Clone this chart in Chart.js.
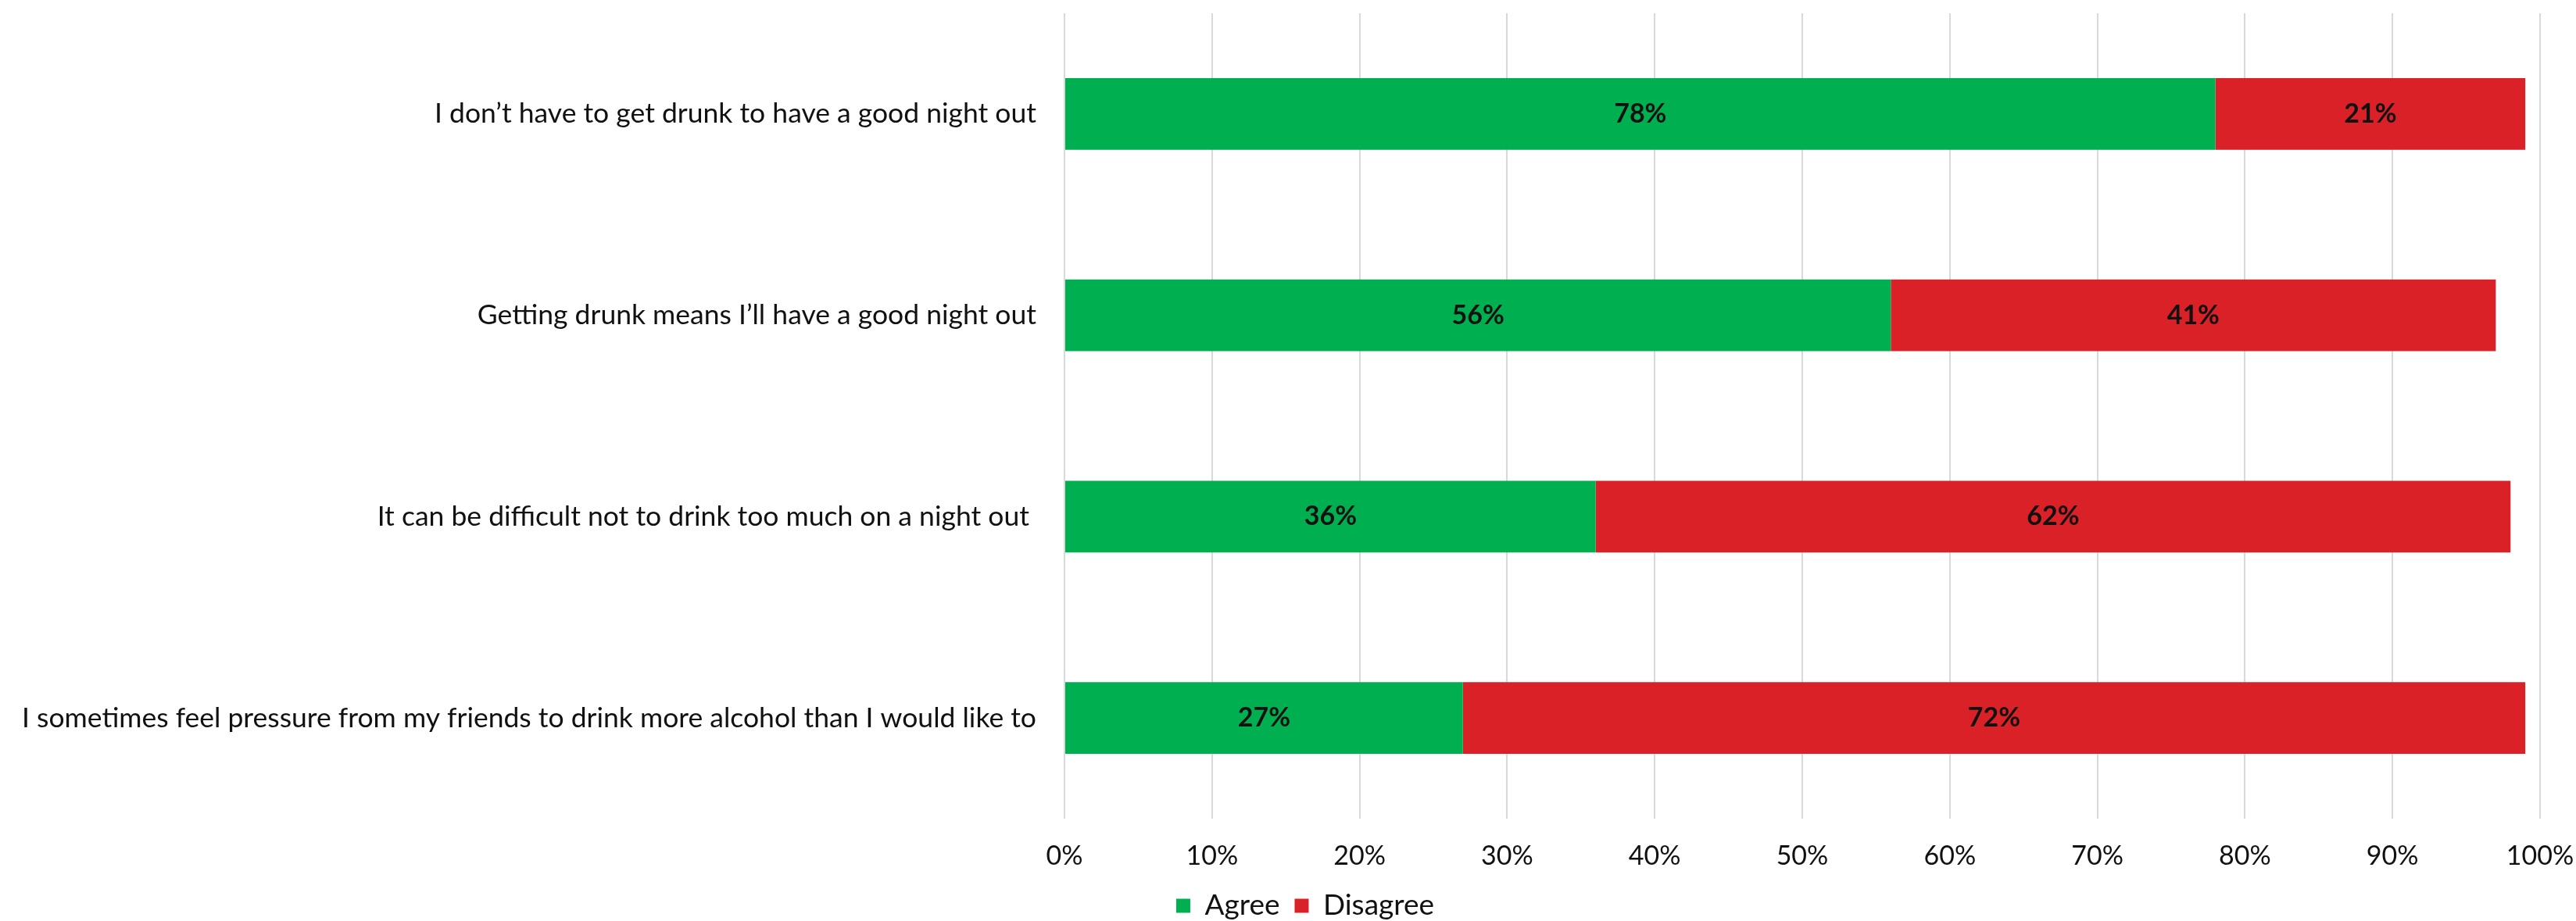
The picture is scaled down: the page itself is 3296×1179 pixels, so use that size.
<!DOCTYPE html>
<html>
<head>
<meta charset="utf-8">
<title>Night out survey</title>
<script src="https://cdn.jsdelivr.net/npm/chart.js@4.4.1/dist/chart.umd.min.js"></script>
<style>
  html, body { margin: 0; padding: 0; background: #ffffff; }
  #wrap { width: 3296px; height: 1179px; position: relative; }
</style>
</head>
<body>
<div id="wrap"><canvas id="chart"></canvas></div>
<script>
//Datos
var categories = [
  'I don\u2019t have to get drunk to have a good night out',
  'Getting drunk means I\u2019ll have a good night out',
  'It can be difficult not to drink too much on a night out ',
  'I sometimes feel pressure from my friends to drink more alcohol than I would like to'
];
var agree = [78, 56, 36, 27];
var disagree = [21, 41, 62, 72];
var xTicks = [0, 10, 20, 30, 40, 50, 60, 70, 80, 90, 100];

var FONT = 'Lato, "Open Sans", sans-serif';

//Etiquetas dentro de las barras
var barLabels = {
  id: 'barLabels',
  afterDatasetsDraw: function(chart) {
    var ctx = chart.ctx;
    ctx.save();
    ctx.font = 'bold 34px ' + FONT;
    ctx.fillStyle = '#111111';
    ctx.textAlign = 'center';
    ctx.textBaseline = 'middle';
    chart.data.datasets.forEach(function(ds, i) {
      var meta = chart.getDatasetMeta(i);
      meta.data.forEach(function(bar, j) {
        var p = bar.getCenterPoint();
        ctx.fillText(ds.data[j] + '%', p.x, p.y);
      });
    });
    ctx.restore();
  }
};

//Mover la leyenda un poco a la derecha y abajo
var legendShift = {
  id: 'legendShift',
  afterLayout: function(chart) {
    if (chart.legend) {
      chart.legend.left += 22;
      chart.legend.right += 22;
      chart.legend.top += 9;
      chart.legend.bottom += 9;
    }
  }
};

var config = {
  type: 'bar',
  data: {
    labels: categories,
    datasets: [{
      label: 'Agree',
      data: agree,
      backgroundColor: '#00B050',
      barPercentage: 0.356,
      categoryPercentage: 1.0
    }, {
      label: 'Disagree',
      data: disagree,
      backgroundColor: '#DA2128',
      barPercentage: 0.356,
      categoryPercentage: 1.0
    }]
  },
  options: {
    indexAxis: 'y',
    responsive: true,
    maintainAspectRatio: false,
    animation: false,
    layout: { padding: { top: 17, right: 0, bottom: 0, left: 0 } },
    scales: {
      x: {
        stacked: true,
        min: 0,
        max: 100,
        afterBuildTicks: function(scale) {
          scale.ticks = xTicks.map(function(v) { return { value: v }; });
        },
        afterFit: function(scale) {
          scale.height = 84;
          scale.paddingLeft = 0;
          scale.paddingRight = 46;
        },
        grid: { color: '#d9d9d9', lineWidth: 2, drawTicks: false },
        border: { display: false },
        ticks: {
          padding: 28,
          color: '#111111',
          font: { family: FONT, size: 34 },
          callback: function(v) { return v + '%'; }
        }
      },
      y: {
        stacked: true,
        afterFit: function(scale) {
          scale.width = 1362;
          scale.paddingTop = 0;
          scale.paddingBottom = 0;
        },
        grid: { display: false },
        border: { display: false },
        ticks: {
          padding: 28,
          color: '#111111',
          font: { family: FONT, size: 35.5 }
        }
      }
    },
    plugins: {
      legend: {
        position: 'bottom',
        labels: {
          boxWidth: 18,
          boxHeight: 18,
          padding: 0,
          color: '#111111',
          font: { family: FONT, size: 37 },
          //espacio entre elementos de la leyenda
          generateLabels: function(chart) {
            var items = Chart.defaults.plugins.legend.labels.generateLabels(chart);
            items.forEach(function(it, i) {
              if (i < items.length - 1) it.text = it.text + '  ';
            });
            return items;
          }
        }
      },
      tooltip: { enabled: false }
    }
  },
  plugins: [barLabels, legendShift]
};

//Instancia Grafico
var ctx = document.getElementById('chart').getContext('2d');
window.bars = new Chart(ctx, config);
</script>
</body>
</html>
